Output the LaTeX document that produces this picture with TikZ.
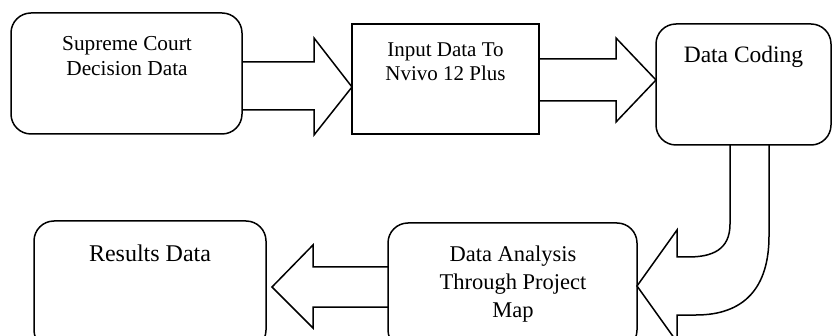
\documentclass[tikz,border=0pt]{standalone}
\usepackage{fontspec}
\setmainfont{Liberation Serif}
\usetikzlibrary{calc}
\begin{document}
\begin{tikzpicture}[x=1pt,y=-1pt,
  box/.style={draw,line width=1.5pt,inner sep=0pt,outer sep=0pt},
  rbox/.style={box,rounded corners=20pt},
  txt/.style={align=center,inner sep=0pt},
  blk/.style={draw,line width=1.5pt,line join=miter}]
\useasboundingbox (0,0) rectangle (834,336);
\clip (0,0) rectangle (834,336);
\fill[white] (0,0) rectangle (834,336);
% boxes
\node[rbox,minimum width=231pt,minimum height=121pt] (sc) at (126.5,73.5) {};
\node[box,minimum width=187pt,minimum height=110pt] (in) at (445.5,79) {};
\node[rbox,minimum width=175pt,minimum height=121pt] (dc) at (743.5,84.5) {};
\node[rbox,minimum width=249pt,minimum height=127pt] (da) at (512.5,286.5) {};
\node[rbox,minimum width=232pt,minimum height=129pt] (rd) at (150,285.5) {};
% texts
\node[txt,font=\fontsize{21.3}{25}\selectfont] (sct) at (127,56) {Supreme Court\\Decision Data};
\node[txt,font=\fontsize{21}{24}\selectfont] (int) at (445.5,61.5) {Input Data To\\Nvivo 12 Plus};
\node[txt,font=\fontsize{23.5}{27}\selectfont] (dct) at (743.5,57) {Data Coding};
\node[txt,font=\fontsize{22.5}{28}\selectfont] (dat) at (513,284.5) {Data Analysis\\Through Project\\Map};
\node[txt,font=\fontsize{24}{28}\selectfont] (rdt) at (150,253) {Results Data};
% block arrows
\draw[blk] (sc.east |- 0,62) -- (314,62) -- (314,38) -- (in.west |- 0,87)
  -- (314,135) -- (314,110) -- (sc.east |- 0,110);
\draw[blk] (in.east |- 0,59) -- (616,59) -- (616,38) -- (dc.west |- 0,80)
  -- (616,122) -- (616,101) -- (in.east |- 0,101);
\draw[blk] (dc.south -| 730,0) -- (730,224) .. controls (730,250) and (712,257) .. (688,257)
  -- (677,257) -- (677,230) -- (da.east |- 0,286) -- (677,342) -- (677,315) -- (696,315)
  .. controls (744,315) and (769,288) .. (769,236) -- (dc.south -| 769,0);
\coordinate (t3) at (272,287);
\draw[blk] (da.west |- 0,267) -- (313,267) -- (313,245) -- (t3) -- (313,328)
  -- (313,307) -- (da.west |- 0,307);
\end{tikzpicture}
\end{document}
